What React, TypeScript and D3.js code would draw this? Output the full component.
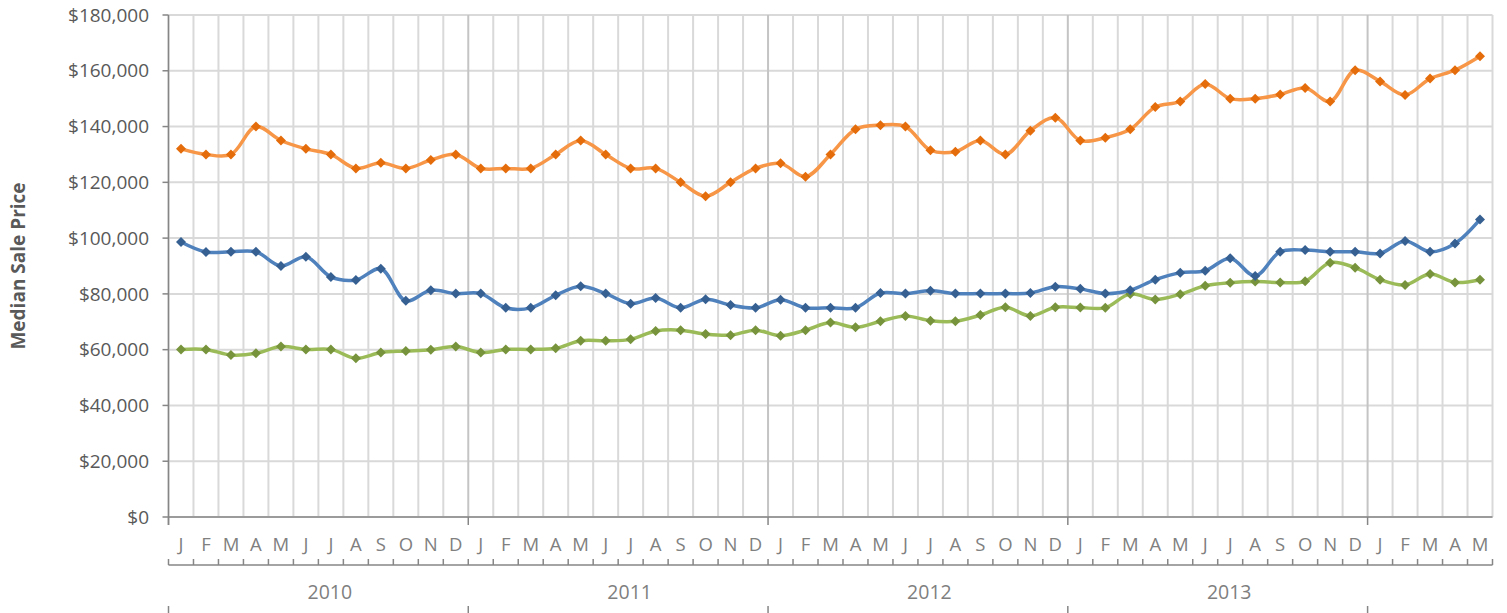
import React, { useEffect } from "react";
import * as d3 from "d3";

const years = ["2010", "2011", "2012", "2013", "2014"];
const monthLetters = ["J", "F", "M", "A", "M", "J", "J", "A", "S", "O", "N", "D"];
const monthCount = 53; // Jan 2010 .. May 2014
const categories: { year: string; month: string }[] = d3.range(monthCount).map((i) => ({
  year: years[Math.floor(i / 12)],
  month: monthLetters[i % 12],
}));

const yTicks = [0, 20000, 40000, 60000, 80000, 100000, 120000, 140000, 160000, 180000];

const orangeSeries = [
  132000, 130000, 130000, 140000, 135000, 132000, 130000, 125000, 127000, 125000, 128000, 130000,
  125000, 125000, 125000, 130000, 135000, 130000, 125000, 125000, 120000, 115000, 120000, 125000,
  126800, 122000, 130000, 139000, 140500, 140000, 131500, 131000, 135000, 130000, 138500, 143200,
  135000, 136000, 139000, 147000, 149000, 155300, 150000, 150000, 151500, 153800, 149000, 160200,
  156200, 151300, 157200, 160200, 165200,
];

const blueSeries = [
  98600, 95000, 95100, 95100, 90000, 93300, 86100, 85000, 89000, 77500, 81300, 80100,
  80100, 75000, 75000, 79500, 82700, 80100, 76500, 78500, 75000, 78100, 76000, 75000,
  77900, 75000, 75000, 75000, 80300, 80100, 81100, 80100, 80100, 80100, 80300, 82600,
  81800, 80100, 81300, 85100, 87600, 88300, 92800, 86400, 95100, 95700, 95100, 95100,
  94500, 99000, 95100, 98100, 106700,
];

const greenSeries = [
  60100, 60100, 58100, 58700, 61100, 60100, 60100, 56900, 59000, 59500, 60000, 61100,
  59000, 60100, 60100, 60500, 63200, 63200, 63700, 66700, 67000, 65600, 65200, 67000,
  65000, 67000, 69700, 68000, 70200, 72100, 70400, 70200, 72400, 75200, 72100, 75200,
  75100, 75000, 80000, 78000, 79900, 82900, 84000, 84400, 84100, 84500, 91200, 89400,
  85100, 83200, 87100, 84100, 85100,
];

const seriesList = [
  { name: "green", values: greenSeries, line: "#9BBB59", marker: "#77933C" },
  { name: "blue", values: blueSeries, line: "#4F81BD", marker: "#376092" },
  { name: "orange", values: orangeSeries, line: "#F79646", marker: "#E46C0A" },
];

const W = 1507;
const H = 613;
const left = 168.5;
const right = 1492.5;
const top = 15;
const bottom = 517;
const FONT = "'Open Sans', 'Noto Sans', sans-serif";

export default function App() {
  useEffect(() => {
    document.body.style.margin = "0";
  }, []);

  const x = d3.scaleBand<number>().domain(d3.range(monthCount)).range([left, right]).padding(0);
  const y = d3.scaleLinear().domain([0, 180000]).range([bottom, top]);
  const bw = x.bandwidth();
  const cx = (i: number) => (x(i) as number) + bw / 2;

  const line = d3
    .line<number>()
    .x((_, i) => cx(i))
    .y((d) => y(d))
    .curve(d3.curveCatmullRom.alpha(0.5));

  const fmt = (v: number) => "$" + d3.format(",")(v);
  const diamond = (px: number, py: number, r: number) =>
    `M${px},${py - r}L${px + r},${py}L${px},${py + r}L${px - r},${py}Z`;

  const boundaries = d3.range(monthCount + 1).map((i) => (i < monthCount ? (x(i) as number) : right));
  const yearStarts = d3.range(0, monthCount, 12);
  const monthAxisY = 565;

  return (
    <svg
      width={W}
      height={H}
      style={{ display: "block", position: "absolute", left: 0, top: 0, background: "#fff" }}
      fontFamily={FONT}
    >
      {/* horizontal gridlines */}
      {yTicks.map((t) => (
        <line key={"hg" + t} x1={left} x2={right} y1={y(t)} y2={y(t)} stroke="#D9D9D9" strokeWidth={2} />
      ))}
      {/* vertical gridlines */}
      {boundaries.map((bx, i) => (
        <line
          key={"vg" + i}
          x1={bx}
          x2={bx}
          y1={top}
          y2={bottom}
          stroke={i % 12 === 0 && i > 0 && i < monthCount ? "#C4C4C4" : "#D9D9D9"}
          strokeWidth={2}
        />
      ))}
      {/* y axis */}
      <line x1={left} x2={left} y1={top} y2={bottom + 8} stroke="#868686" strokeWidth={1.5} />
      {yTicks.map((t) => (
        <g key={"yt" + t}>
          <line x1={left - 6} x2={left} y1={y(t)} y2={y(t)} stroke="#868686" strokeWidth={1.5} />
          <text x={149} y={y(t)} dy="0.35em" textAnchor="end" fontSize={19} fill="#595959">
            {fmt(t)}
          </text>
        </g>
      ))}
      {/* x axis line */}
      <line x1={left} x2={right} y1={bottom} y2={bottom} stroke="#868686" strokeWidth={1.5} />
      {yearStarts.map((s) => (
        <line key={"yb" + s} x1={x(s) as number} x2={x(s) as number} y1={bottom} y2={bottom + 8} stroke="#868686" strokeWidth={1.5} />
      ))}
      {/* month labels */}
      {categories.map((c, i) => (
        <text key={"ml" + i} x={cx(i)} y={545} dy="0.35em" textAnchor="middle" fontSize={18.5} fill="#808080">
          {c.month}
        </text>
      ))}
      {/* month axis line */}
      <line x1={left} x2={right} y1={monthAxisY} y2={monthAxisY} stroke="#868686" strokeWidth={1.5} />
      {boundaries.map((bx, i) => (
        <line key={"mt" + i} x1={bx} x2={bx} y1={monthAxisY - 6} y2={monthAxisY} stroke="#868686" strokeWidth={1.5} />
      ))}
      {/* year labels (Excel places them at the 7th month of each full year group) */}
      {yearStarts.map((s) => {
        if (s + 12 > monthCount) return null;
        return (
          <text key={"yl" + s} x={cx(s + 6) - 1} y={592.5} dy="0.35em" textAnchor="middle" fontSize={19.5} fill="#7F7F7F">
            {categories[s].year}
          </text>
        );
      })}
      {yearStarts.map((s) => (
        <line key={"ybb" + s} x1={x(s) as number} x2={x(s) as number} y1={606} y2={613} stroke="#868686" strokeWidth={1.5} />
      ))}
      {/* y axis title */}
      <text
        transform={`translate(25,${(top + bottom) / 2}) rotate(-90)`}
        textAnchor="middle"
        fontSize={19}
        fontWeight="bold"
        fill="#595959"
      >
        Median Sale Price
      </text>
      {/* series */}
      {seriesList.map((s) => (
        <g key={s.name}>
          <path d={line(s.values) || ""} fill="none" stroke={s.line} strokeWidth={3.5} strokeLinejoin="round" />
          {s.values.map((v, i) => (
            <path key={i} d={diamond(cx(i), y(v), 5)} fill={s.marker} />
          ))}
        </g>
      ))}
    </svg>
  );
}
